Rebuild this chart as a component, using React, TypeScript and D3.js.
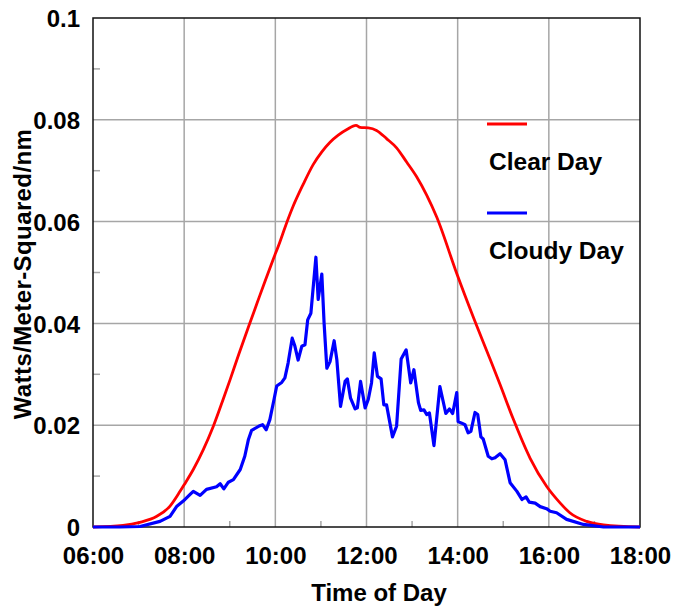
import React, { useEffect, useRef } from "react";
import * as d3 from "d3";

// hours of day (decimal) and tick text
const hourTicks = [6, 8, 10, 12, 14, 16, 18];
const hourLabels = ["06:00", "08:00", "10:00", "12:00", "14:00", "16:00", "18:00"];
const minorHours = [7, 9, 11, 13, 15, 17];
const valueTicks = [0, 0.02, 0.04, 0.06, 0.08, 0.1];
const valueLabels = ["0", "0.02", "0.04", "0.06", "0.08", "0.1"];
const minorValues = [0.01, 0.03, 0.05, 0.07, 0.09];

const seriesNames = ["Clear Day", "Cloudy Day"];

const clearHours = [
  6.0, 6.66, 7.03, 7.4, 7.69, 7.91, 8.0, 8.2, 8.42, 8.64, 8.86, 9.01, 9.2, 9.41, 9.6,
  9.77, 9.95, 10.1, 10.21, 10.39, 10.61, 10.83, 11.02, 11.2, 11.38, 11.57, 11.77,
  11.86, 12.04, 12.22, 12.44, 12.66, 12.88, 13.1, 13.32, 13.54, 13.98, 14.34, 14.71,
  14.93, 15.22, 15.59, 15.95, 16.25, 16.46, 16.83, 17.2, 18.0,
];
const clearValues = [
  0, 0.0003, 0.0009, 0.0021, 0.0041, 0.007, 0.0083, 0.0113, 0.0152, 0.0198, 0.0252,
  0.029, 0.034, 0.0393, 0.044, 0.0482, 0.0525, 0.056, 0.0588, 0.063, 0.0673, 0.0712,
  0.0737, 0.0756, 0.077, 0.0781, 0.0789, 0.0785, 0.0784, 0.0779, 0.0763, 0.0745,
  0.0717, 0.0688, 0.0652, 0.0609, 0.0498, 0.0413, 0.033, 0.028, 0.0212, 0.0135,
  0.008, 0.0047, 0.0028, 0.0011, 0.0004, 0,
];

const cloudyHours = [
  6.0, 6.59, 7.03, 7.47, 7.69, 7.84, 7.98, 8.13, 8.2, 8.35, 8.49, 8.71, 8.79, 8.87,
  8.97, 9.08, 9.23, 9.33, 9.41, 9.48, 9.66, 9.72, 9.8, 9.88, 9.97, 10.03, 10.14,
  10.21, 10.28, 10.37, 10.43, 10.5, 10.58, 10.65, 10.71, 10.78, 10.89, 10.94, 11.02,
  11.07, 11.13, 11.2, 11.29, 11.35, 11.43, 11.53, 11.58, 11.65, 11.75, 11.8, 11.87,
  11.97, 12.04, 12.11, 12.17, 12.24, 12.32, 12.38, 12.44, 12.57, 12.66, 12.76, 12.87,
  12.97, 13.04, 13.14, 13.19, 13.26, 13.32, 13.38, 13.48, 13.61, 13.74, 13.82, 13.89,
  13.98, 14.01, 14.09, 14.16, 14.23, 14.29, 14.38, 14.44, 14.51, 14.56, 14.67, 14.75,
  14.82, 14.93, 15.04, 15.15, 15.3, 15.41, 15.5, 15.57, 15.7, 15.81, 15.95, 16.03,
  16.17, 16.39, 16.76, 17.2, 18.0,
];
const cloudyValues = [
  0, 0, 0.0001, 0.0011, 0.0021, 0.0041, 0.0051, 0.0064, 0.007, 0.0062, 0.0074,
  0.0079, 0.0085, 0.0075, 0.0088, 0.0093, 0.0113, 0.0139, 0.0172, 0.019, 0.0199,
  0.0201, 0.0191, 0.0211, 0.025, 0.0277, 0.0284, 0.0293, 0.0322, 0.0371, 0.0355,
  0.0328, 0.0355, 0.0358, 0.0407, 0.042, 0.053, 0.0447, 0.0497, 0.04, 0.0312,
  0.0325, 0.0366, 0.0328, 0.0237, 0.0286, 0.0291, 0.0253, 0.0232, 0.0234, 0.0286,
  0.0234, 0.0251, 0.0283, 0.0342, 0.0296, 0.0291, 0.024, 0.024, 0.0177, 0.0198,
  0.033, 0.0348, 0.0283, 0.0309, 0.0244, 0.0229, 0.023, 0.0221, 0.0224, 0.016,
  0.0276, 0.0223, 0.0232, 0.0223, 0.0264, 0.0207, 0.0204, 0.0201, 0.0185, 0.0188,
  0.0225, 0.0221, 0.0177, 0.0173, 0.0139, 0.0134, 0.0136, 0.0144, 0.0132, 0.0087,
  0.007, 0.0054, 0.0059, 0.0049, 0.0047, 0.004, 0.0036, 0.0031, 0.0028, 0.0015,
  0.0005, 0, 0,
];

const W = 673;
const H = 609;
const margin = { top: 18, right: 33, bottom: 82, left: 93 };

const App = () => {
  const ref = useRef<SVGSVGElement>(null);

  useEffect(() => {
    const svg = d3.select(ref.current);
    svg.selectAll("*").remove();

    const font = "'Liberation Sans', Arial, sans-serif";
    const x = d3.scaleLinear().domain([6, 18]).range([margin.left, W - margin.right]);
    const y = d3.scaleLinear().domain([0, 0.1]).range([H - margin.bottom, margin.top]);
    const x0 = x(6), x1 = x(18), y0 = y(0), y1 = y(0.1);

    // grid
    const grid = svg.append("g").attr("stroke", "#a6a6a6").attr("stroke-width", 1.5);
    grid.selectAll(".vg")
      .data(hourTicks.slice(1, -1))
      .enter()
      .append("line")
      .attr("x1", (d) => x(d)).attr("x2", (d) => x(d))
      .attr("y1", y0).attr("y2", y1);
    grid.selectAll(".hg")
      .data(valueTicks.slice(1, -1))
      .enter()
      .append("line")
      .attr("y1", (d) => y(d)).attr("y2", (d) => y(d))
      .attr("x1", x0).attr("x2", x1);

    // minor ticks
    grid.selectAll(".mx")
      .data(minorHours)
      .enter()
      .append("line")
      .attr("x1", (d) => x(d)).attr("x2", (d) => x(d))
      .attr("y1", y0).attr("y2", y0 - 6);
    grid.selectAll(".my")
      .data(minorValues)
      .enter()
      .append("line")
      .attr("y1", (d) => y(d)).attr("y2", (d) => y(d))
      .attr("x1", x0).attr("x2", x0 + 7);

    // frame
    svg.append("rect")
      .attr("x", x0).attr("y", y1)
      .attr("width", x1 - x0).attr("height", y0 - y1)
      .attr("fill", "none").attr("stroke", "#111").attr("stroke-width", 1.5);

    // lines
    const line = (xs: number[]) =>
      d3.line<number>().x((_, i) => x(xs[i])).y((d) => y(d));
    svg.append("path")
      .attr("d", line(clearHours).curve(d3.curveMonotoneX)(clearValues))
      .attr("fill", "none").attr("stroke", "#ff0000").attr("stroke-width", 2.8)
      .attr("stroke-linejoin", "round");
    svg.append("path")
      .attr("d", line(cloudyHours)(cloudyValues))
      .attr("fill", "none").attr("stroke", "#0000ff").attr("stroke-width", 3.2)
      .attr("stroke-linejoin", "round");

    const bold = (sel: any, size: number) =>
      sel.style("font-family", font).style("font-size", `${size}px`)
        .style("font-weight", "bold").attr("fill", "#000");

    // axes labels
    const xAxis = svg.append("g")
      .attr("transform", `translate(0,${y0})`)
      .call(d3.axisBottom(x).tickValues(hourTicks).tickSize(0)
        .tickFormat((_, i) => hourLabels[i]));
    xAxis.select(".domain").remove();
    bold(xAxis.selectAll("text").attr("y", 37).attr("dy", 0), 24);

    const yAxis = svg.append("g")
      .attr("transform", `translate(${x0},0)`)
      .call(d3.axisLeft(y).tickValues(valueTicks).tickSize(0)
        .tickFormat((_, i) => valueLabels[i]));
    yAxis.select(".domain").remove();
    bold(yAxis.selectAll("text").attr("x", -13).attr("dy", "0.36em"), 24);

    bold(svg.append("text")
      .attr("x", 379).attr("y", 601)
      .attr("text-anchor", "middle")
      .text("Time of Day"), 24);

    bold(svg.append("text")
      .attr("transform", `translate(31,274) rotate(-90)`)
      .attr("text-anchor", "middle")
      .style("letter-spacing", "0.4px")
      .text("Watts/Meter-Squared/nm"), 24);

    // legend
    const colors = ["#ff0000", "#0000ff"];
    const lg = svg.append("g");
    seriesNames.forEach((name, i) => {
      const top = 124 + i * 89;
      lg.append("line")
        .attr("x1", 487).attr("x2", 527)
        .attr("y1", top).attr("y2", top)
        .attr("stroke", colors[i]).attr("stroke-width", 3);
      bold(lg.append("text")
        .attr("x", 489).attr("y", top + 46)
        .text(name), 24.5);
    });
  }, []);

  return (
    <svg
      ref={ref}
      width={W}
      height={H}
      style={{ position: "absolute", left: 0, top: 0, background: "#fff" }}
    />
  );
};

export default App;
